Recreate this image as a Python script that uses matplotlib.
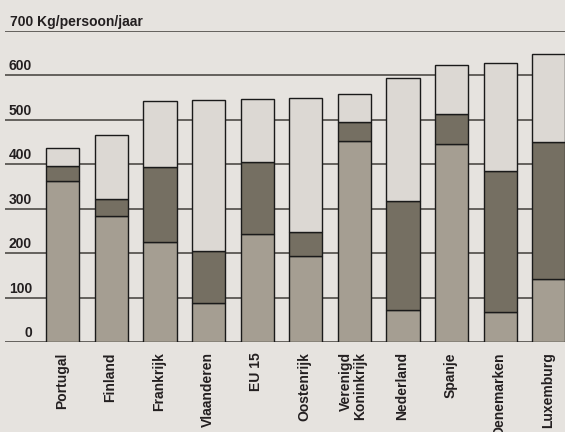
import matplotlib
matplotlib.use("Agg")
import matplotlib.pyplot as plt

# kg per person per year, three stacked segments
landen = ["Portugal", "Finland", "Frankrijk", "Vlaanderen", "EU 15", "Oostenrijk",
          "Verenigd\nKoninkrijk", "Nederland", "Spanje", "Denemarken", "Luxemburg"]
onderste = [362, 285, 226, 88, 243, 194, 453, 73, 446, 69, 142]
midden = [34, 38, 169, 117, 162, 55, 42, 245, 67, 316, 309]
bovenste = [42, 143, 147, 340, 141, 301, 63, 277, 111, 243, 198]
yticks = [0, 100, 200, 300, 400, 500, 600]
titel = "700 Kg/persoon/jaar"

bg = "#e6e3df"
c_onder = "#a59e92"
c_midden = "#756f62"
c_boven = "#dcd8d3"
tekst = "#231f20"

plt.rcParams["font.family"] = ["Liberation Sans", "DejaVu Sans"]

fig = plt.figure(figsize=(5.65, 4.32), dpi=100, facecolor=bg)
ax = fig.add_axes([5 / 565, (432 - 342.3) / 432, 560 / 565, (342.3 - 31) / 432])
ax.set_facecolor(bg)
ax.set_xlim(-1.189, 10.333)
ax.set_ylim(0, 700)
for s in ax.spines.values():
    s.set_visible(False)
ax.set_xticks([])
ax.set_yticks([])

for y in yticks + [700]:
    ax.axhline(y, color="#5a5753", lw=1.3, zorder=1)

x = list(range(len(landen)))
breedte = 0.68
bot2 = [a + b for a, b in zip(onderste, midden)]
ax.bar(x, onderste, breedte, color=c_onder, edgecolor="#1a1a1a", lw=1.0, zorder=3)
ax.bar(x, midden, breedte, bottom=onderste, color=c_midden, edgecolor="#1a1a1a", lw=1.0, zorder=3)
ax.bar(x, bovenste, breedte, bottom=bot2, color=c_boven, edgecolor="#1a1a1a", lw=1.0, zorder=3)

# y labels sit just above their gridline
for y in yticks:
    ax.annotate(str(y), xy=(0, y), xycoords=("axes fraction", "data"),
                xytext=(27, 5), textcoords="offset pixels",
                ha="right", va="baseline", fontsize=10, fontweight="bold", color=tekst)
ax.annotate(titel, xy=(0, 700), xycoords=("axes fraction", "data"),
            xytext=(5, 5), textcoords="offset pixels",
            ha="left", va="baseline", fontsize=10, fontweight="bold", color=tekst)

for i, naam in enumerate(landen):
    ax.annotate(naam, xy=(i, 0), xytext=(-1, -10), textcoords="offset pixels",
                rotation=90, ha="center", va="top", multialignment="right",
                fontsize=10, fontweight="bold", color=tekst, linespacing=1.0,
                annotation_clip=False)

fig.savefig("out.png", dpi=100, facecolor=bg)
